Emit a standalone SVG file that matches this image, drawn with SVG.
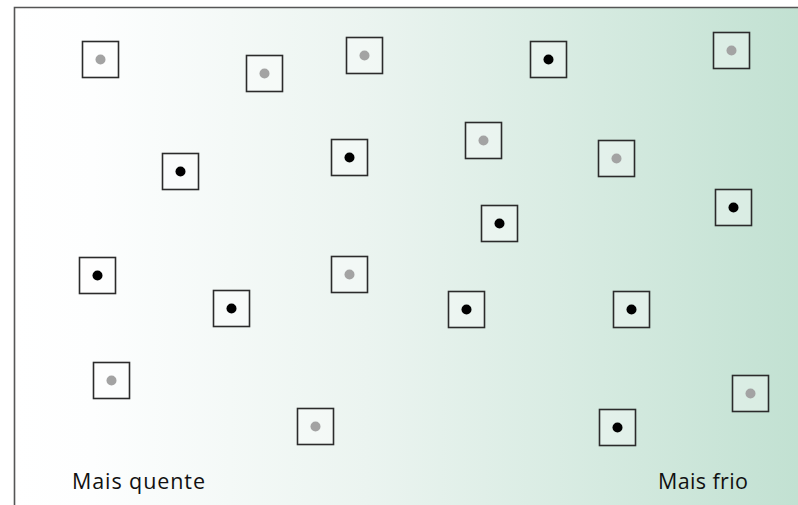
<svg xmlns="http://www.w3.org/2000/svg" width="798" height="505" viewBox="0 0 798 505">
<defs>
<linearGradient id="bg" x1="0" y1="0" x2="1" y2="0">
<stop offset="0" stop-color="#ffffff"/>
<stop offset="0.1" stop-color="#fdfefe"/>
<stop offset="0.45" stop-color="#ebf4f0"/>
<stop offset="0.75" stop-color="#d5eae0"/>
<stop offset="1" stop-color="#c2e1d2"/>
</linearGradient>
<style>
.box{fill:#ffffff;fill-opacity:0.35;stroke:#2b2b2b;stroke-width:1.6}
.g{fill:#a3a3a3}
.k{fill:#000000}
.lbl{font-family:"Open Sans","Noto Sans",sans-serif;font-size:21.5px;fill:#111}
</style>
</defs>
<rect x="14" y="7" width="784" height="498" fill="url(#bg)"/>
<path d="M14.5 505 V7.5 H798" fill="none" stroke="#555" stroke-width="1.6"/>
<g id="nodes">
<g id="n1"><rect class="box" x="82.5" y="41.5" width="36" height="36"/><circle class="g" cx="100.5" cy="59.5" r="5"/></g>
<g id="n2"><rect class="box" x="246.5" y="55.5" width="36" height="36"/><circle class="g" cx="264.5" cy="73.5" r="5"/></g>
<g id="n3"><rect class="box" x="346.5" y="37.5" width="36" height="36"/><circle class="g" cx="364.5" cy="55.5" r="5"/></g>
<g id="n4"><rect class="box" x="530.5" y="41.5" width="36" height="36"/><circle class="k" cx="548.5" cy="59.5" r="5"/></g>
<g id="n5"><rect class="box" x="713.5" y="32.5" width="36" height="36"/><circle class="g" cx="731.5" cy="50.5" r="5"/></g>
<g id="n6"><rect class="box" x="162.5" y="153.5" width="36" height="36"/><circle class="k" cx="180.5" cy="171.5" r="5"/></g>
<g id="n7"><rect class="box" x="331.5" y="139.5" width="36" height="36"/><circle class="k" cx="349.5" cy="157.5" r="5"/></g>
<g id="n8"><rect class="box" x="465.5" y="122.5" width="36" height="36"/><circle class="g" cx="483.5" cy="140.5" r="5"/></g>
<g id="n9"><rect class="box" x="598.5" y="140.5" width="36" height="36"/><circle class="g" cx="616.5" cy="158.5" r="5"/></g>
<g id="n10"><rect class="box" x="481.5" y="205.5" width="36" height="36"/><circle class="k" cx="499.5" cy="223.5" r="5"/></g>
<g id="n11"><rect class="box" x="715.5" y="189.5" width="36" height="36"/><circle class="k" cx="733.5" cy="207.5" r="5"/></g>
<g id="n12"><rect class="box" x="79.5" y="257.5" width="36" height="36"/><circle class="k" cx="97.5" cy="275.5" r="5"/></g>
<g id="n13"><rect class="box" x="213.5" y="290.5" width="36" height="36"/><circle class="k" cx="231.5" cy="308.5" r="5"/></g>
<g id="n14"><rect class="box" x="331.5" y="256.5" width="36" height="36"/><circle class="g" cx="349.5" cy="274.5" r="5"/></g>
<g id="n15"><rect class="box" x="448.5" y="291.5" width="36" height="36"/><circle class="k" cx="466.5" cy="309.5" r="5"/></g>
<g id="n16"><rect class="box" x="613.5" y="291.5" width="36" height="36"/><circle class="k" cx="631.5" cy="309.5" r="5"/></g>
<g id="n17"><rect class="box" x="93.5" y="362.5" width="36" height="36"/><circle class="g" cx="111.5" cy="380.5" r="5"/></g>
<g id="n18"><rect class="box" x="732.5" y="375.5" width="36" height="36"/><circle class="g" cx="750.5" cy="393.5" r="5"/></g>
<g id="n19"><rect class="box" x="297.5" y="408.5" width="36" height="36"/><circle class="g" cx="315.5" cy="426.5" r="5"/></g>
<g id="n20"><rect class="box" x="599.5" y="409.5" width="36" height="36"/><circle class="k" cx="617.5" cy="427.5" r="5"/></g>
</g>
<g id="connectors"></g>
<g id="labels">
<text class="lbl" x="72" y="489" textLength="133">Mais quente</text>
<text class="lbl" x="658" y="489" textLength="90">Mais frio</text>
</g>
</svg>
